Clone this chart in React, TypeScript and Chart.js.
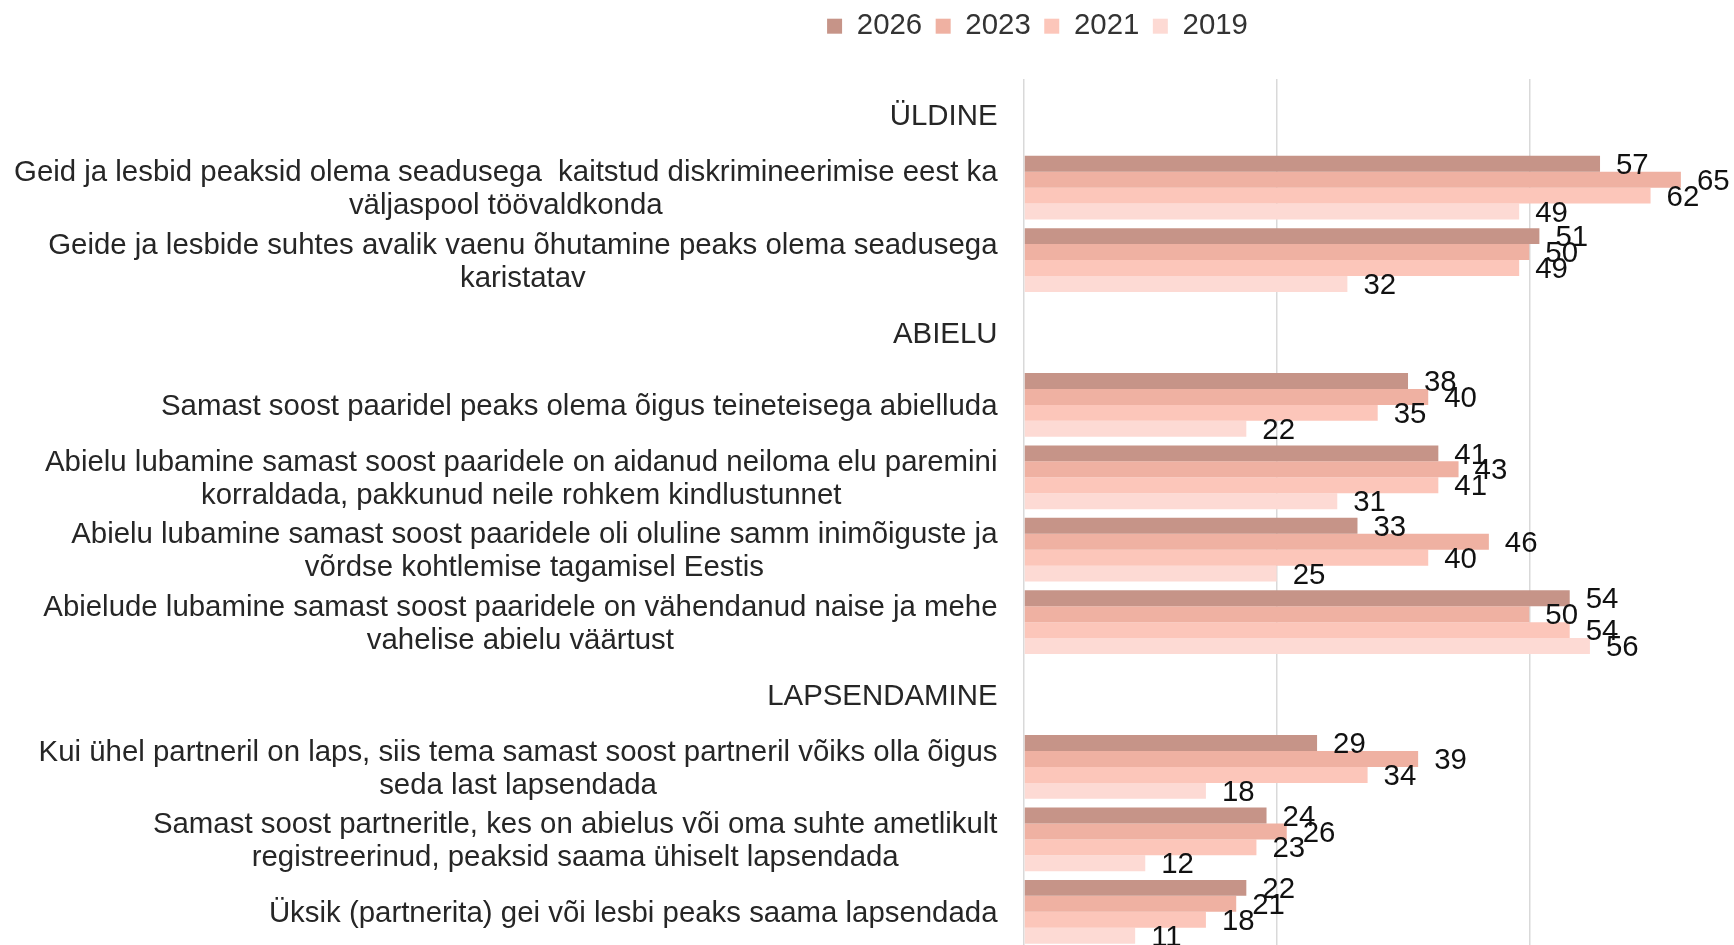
import React, { useEffect, useRef } from "react";
import { Chart, registerables } from "chart.js";

Chart.register(...registerables);

const categories: string[][] = [
  ["ÜLDINE"],
  ["Geid ja lesbid peaksid olema seadusega  kaitstud diskrimineerimise eest ka", "väljaspool töövaldkonda"],
  ["Geide ja lesbide suhtes avalik vaenu õhutamine peaks olema seadusega", "karistatav"],
  ["ABIELU"],
  ["Samast soost paaridel peaks olema õigus teineteisega abielluda"],
  ["Abielu lubamine samast soost paaridele on aidanud neiloma elu paremini", "korraldada, pakkunud neile rohkem kindlustunnet"],
  ["Abielu lubamine samast soost paaridele oli oluline samm inimõiguste ja", "võrdse kohtlemise tagamisel Eestis"],
  ["Abielude lubamine samast soost paaridele on vähendanud naise ja mehe", "vahelise abielu väärtust"],
  ["LAPSENDAMINE"],
  ["Kui ühel partneril on laps, siis tema samast soost partneril võiks olla õigus", "seda last lapsendada"],
  ["Samast soost partneritle, kes on abielus või oma suhte ametlikult", "registreerinud, peaksid saama ühiselt lapsendada"],
  ["Üksik (partnerita) gei või lesbi peaks saama lapsendada"],
];

const seriesNames = ["2026", "2023", "2021", "2019"];
const values2026 = [null, 57, 51, null, 38, 41, 33, 54, null, 29, 24, 22];
const values2023 = [null, 65, 50, null, 40, 43, 46, 50, null, 39, 26, 21];
const values2021 = [null, 62, 49, null, 35, 41, 40, 54, null, 34, 23, 18];
const values2019 = [null, 49, 32, null, 22, 31, 25, 56, null, 18, 12, 11];
const seriesColors = ["#C69488", "#EFB1A2", "#FCC6BA", "#FDDAD4"];

const FONT = "'Liberation Sans', Arial, sans-serif";
const FONT_SIZE = 29.4;

const valueLabelPlugin = {
  id: "valueLabels",
  afterDatasetsDraw(chart: any) {
    const ctx = chart.ctx;
    ctx.save();
    ctx.font = `${FONT_SIZE}px ${FONT}`;
    ctx.fillStyle = "#111111";
    ctx.textAlign = "left";
    ctx.textBaseline = "middle";
    chart.data.datasets.forEach((ds: any, di: number) => {
      const meta = chart.getDatasetMeta(di);
      meta.data.forEach((el: any, i: number) => {
        const v = ds.data[i];
        if (v === null || v === undefined) return;
        ctx.fillText(String(v), el.x + 16, el.y + 2);
      });
    });
    ctx.restore();
  },
};

const categoryLabelPlugin = {
  id: "categoryLabels",
  afterDraw(chart: any) {
    const ctx = chart.ctx;
    const yScale = chart.scales.y;
    const right = chart.chartArea.left - 26.5;
    const lineH = 33;
    ctx.save();
    ctx.font = `${FONT_SIZE}px ${FONT}`;
    ctx.fillStyle = "#262626";
    ctx.textBaseline = "middle";
    ctx.textAlign = "center";
    (chart.data.labels as string[][]).forEach((lines, i) => {
      const cy = yScale.getPixelForValue(i) + 2;
      const maxW = Math.max(...lines.map((l) => ctx.measureText(l).width));
      const cx = right - maxW / 2;
      lines.forEach((l, j) => {
        const y = cy + (j - (lines.length - 1) / 2) * lineH;
        ctx.fillText(l, cx, y);
      });
    });
    ctx.restore();
  },
};

export default function App() {
  const ref = useRef<HTMLCanvasElement | null>(null);

  useEffect(() => {
    if (!ref.current) return;
    const allValues = [values2026, values2023, values2021, values2019];
    const chart = new Chart(ref.current, {
      type: "bar",
      data: {
        labels: categories,
        datasets: seriesNames.map((name, i) => ({
          label: name,
          data: allValues[i],
          backgroundColor: seriesColors[i],
          borderWidth: 0,
          categoryPercentage: 0.88,
          barPercentage: 1.0,
        })),
      },
      options: {
        indexAxis: "y",
        responsive: false,
        animation: false,
        layout: { padding: { top: -2, left: 0, right: 0, bottom: 12 } },
        plugins: {
          legend: {
            display: true,
            position: "top",
            labels: {
              boxWidth: 15,
              boxHeight: 15,
              padding: 13.5,
              color: "#333333",
              font: { family: FONT, size: FONT_SIZE },
            },
          },
          tooltip: { enabled: false },
        },
        scales: {
          x: {
            position: "top",
            min: 0,
            max: 104,
            ticks: { display: false, stepSize: 25 },
            grid: { color: "#D9D9D9", lineWidth: 1.5, drawTicks: false },
            border: { display: false },
            afterFit: (s: any) => {
              s.height = 28.1;
            },
          },
          y: {
            ticks: { display: false },
            grid: { display: false, drawTicks: false },
            border: { display: false },
            afterFit: (s: any) => {
              s.width = 1024;
            },
          },
        },
      },
      plugins: [valueLabelPlugin, categoryLabelPlugin],
    });
    return () => chart.destroy();
  }, []);

  return (
    <div
      style={{
        position: "fixed",
        left: 0,
        top: 0,
        width: 1734,
        height: 945,
        overflow: "hidden",
        background: "#ffffff",
      }}
    >
      <canvas ref={ref} width={2075} height={960} style={{ display: "block" }} />
    </div>
  );
}
